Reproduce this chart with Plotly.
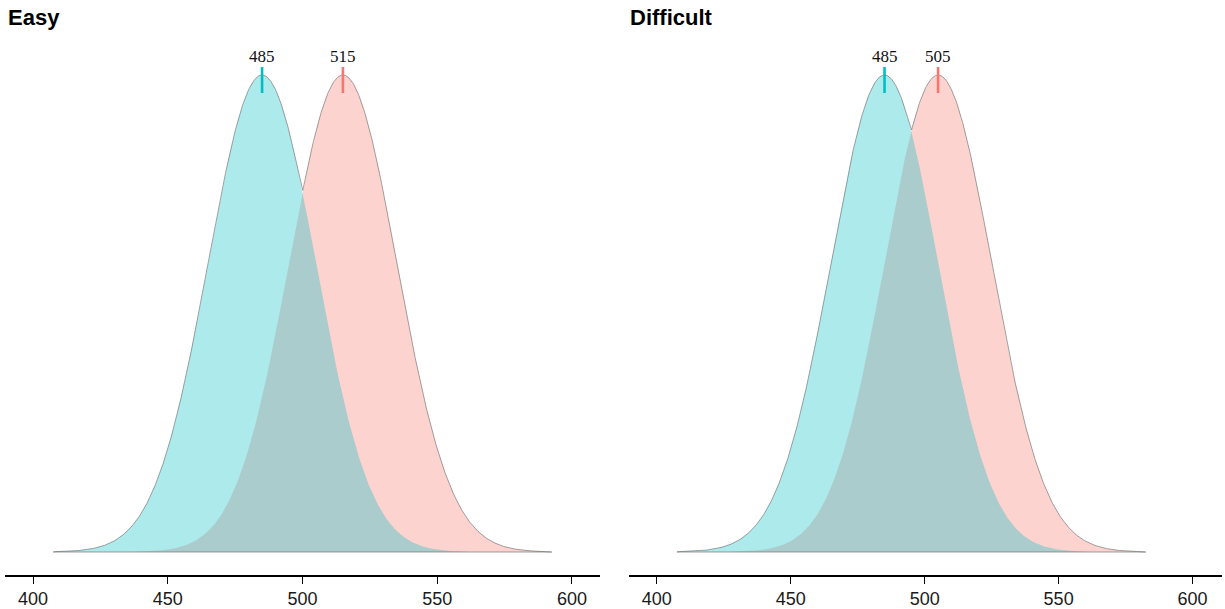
import numpy as np
import plotly.graph_objects as go

# ---- data ----
panels = ["Easy", "Difficult"]
groups = ["A", "B"]              # cyan group, red group
means_easy = [485, 515]
means_difficult = [485, 505]
sds_easy = [20, 20]
sds_difficult = [20, 20]
tail_halfwidth = 77.5            # curves drawn over mean +/- this
tick_vals = [400, 450, 500, 550, 600]
tick_text = ["400", "450", "500", "550", "600"]

fill_colors = ["rgba(0,191,196,0.32)", "rgba(248,118,109,0.32)"]
mark_colors = ["#00BFC4", "#F8766D"]

W, H = 1225, 609
peak = 1 / (20 * np.sqrt(2 * np.pi))
base_px, peak_px = 552, 75
def y_of_px(px):
    return (base_px - px) / (base_px - peak_px) * peak

def density(xs, m, s):
    return np.exp(-0.5 * ((xs - m) / s) ** 2) / (s * np.sqrt(2 * np.pi))

fig = go.Figure()

panel_means = [means_easy, means_difficult]
panel_sds = [sds_easy, sds_difficult]
axis_names = [("x", "y"), ("x2", "y2")]

for p, (means, sds) in enumerate(zip(panel_means, panel_sds)):
    xa, ya = axis_names[p]
    # draw red first, cyan on top (fills only)
    for g in [1, 0]:
        m, s = means[g], sds[g]
        xs = np.linspace(m - tail_halfwidth, m + tail_halfwidth, 400)
        ys = density(xs, m, s)
        xs_poly = np.concatenate([[xs[0]], xs, [xs[-1], xs[0]]])
        ys_poly = np.concatenate([[0], ys, [0, 0]])
        fig.add_trace(go.Scatter(
            x=xs_poly, y=ys_poly, mode="lines", fill="toself",
            fillcolor=fill_colors[g], line=dict(width=0),
            xaxis=xa, yaxis=ya, showlegend=False, hoverinfo="skip"))
    # outer outline (upper envelope of both curves + baseline)
    lo = min(means) - tail_halfwidth
    hi = max(means) + tail_halfwidth
    xs = np.linspace(lo, hi, 800)
    env = np.zeros_like(xs)
    for g in range(2):
        inside = np.abs(xs - means[g]) <= tail_halfwidth
        env = np.maximum(env, np.where(inside, density(xs, means[g], sds[g]), 0))
    ox = np.concatenate([[lo], xs, [hi, lo]])
    oy = np.concatenate([[0], env, [0, 0]])
    fig.add_trace(go.Scatter(
        x=ox, y=oy, mode="lines",
        line=dict(color="rgba(100,100,100,0.85)", width=0.7),
        xaxis=xa, yaxis=ya, showlegend=False, hoverinfo="skip"))

# axis layout
ybot = y_of_px(575)
ytop = y_of_px(30)
ydom = [1 - 575 / H, 1 - 30 / H]

axis_common = dict(
    showgrid=False, zeroline=False, showline=True, linecolor="black",
    linewidth=1.5, ticks="outside", ticklen=7, tickwidth=1.3,
    tickcolor="black", tickvals=tick_vals, ticktext=tick_text,
    tickfont=dict(family="Liberation Sans, Arial", size=18, color="#1a1a1a"),
)
fig.update_layout(
    width=W, height=H,
    margin=dict(l=0, r=0, t=0, b=0),
    paper_bgcolor="white", plot_bgcolor="white",
    xaxis=dict(domain=[5 / W, 600 / W], range=[389.6, 610.4], anchor="y", **axis_common),
    xaxis2=dict(domain=[629 / W, 1222 / W], range=[389.6, 611.0], anchor="y2", **axis_common),
    yaxis=dict(domain=ydom, range=[ybot, ytop], visible=False),
    yaxis2=dict(domain=ydom, range=[ybot, ytop], visible=False, anchor="x2"),
)

# mean markers and labels
shapes = []
annotations = []
for p, means in enumerate(panel_means):
    xa, ya = axis_names[p]
    for g in range(2):
        shapes.append(dict(type="line", xref=xa, yref=ya,
                           x0=means[g], x1=means[g],
                           y0=y_of_px(67), y1=y_of_px(93),
                           line=dict(color=mark_colors[g], width=2.6)))
        annotations.append(dict(xref=xa, yref="paper", x=means[g], y=1 - 56 / H,
                                text=str(means[g]), showarrow=False,
                                xanchor="center", yanchor="middle",
                                font=dict(family="Liberation Serif, Times New Roman, serif",
                                          size=17, color="#111")))

title_x = [6 / W, 628 / W]
for p, name in enumerate(panels):
    annotations.append(dict(xref="paper", yref="paper", x=title_x[p], y=1 - 3 / H,
                            text="<b>" + name + "</b>", showarrow=False,
                            xanchor="left", yanchor="top",
                            font=dict(family="Liberation Sans, Arial", size=22, color="black")))

fig.update_layout(shapes=shapes, annotations=annotations)
fig.write_html("out.html", config={"displayModeBar": False},
               post_script="document.body.style.margin='0';document.body.style.padding='0';")
